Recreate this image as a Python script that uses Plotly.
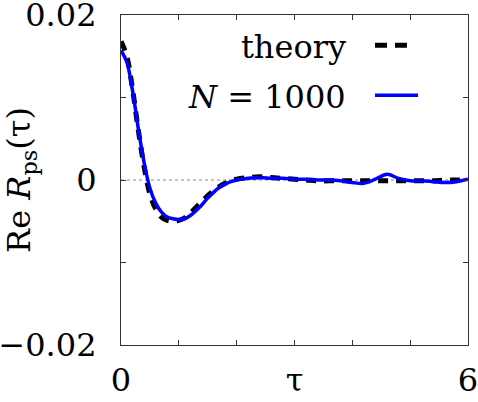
import plotly.graph_objects as go

# ---- data ----
tau = [0.0, 0.1, 0.2, 0.3, 0.4, 0.5, 0.6, 0.7, 0.8, 0.9, 1.0, 1.1, 1.2, 1.3, 1.4,
       1.5, 1.6, 1.7, 1.8, 1.9, 2.0, 2.2, 2.4, 2.6, 2.8, 3.0, 3.2, 3.4, 3.6, 3.8,
       4.0, 4.2, 4.4, 4.6, 4.8, 5.0, 5.2, 5.4, 5.6, 5.8, 6.0]
theory = [0.0168, 0.0150, 0.0110, 0.0060, 0.0016, -0.0017, -0.0035, -0.0045, -0.0049,
          -0.0050, -0.0049, -0.0046, -0.0040, -0.0033, -0.0026, -0.0019, -0.0013,
          -0.0008, -0.0004, -0.0001, 0.0001, 0.0003, 0.0004, 0.0003, 0.0002, 0.0001,
          0.0000, -0.0001, -0.0001, -0.0001, -0.0001, -0.0001, -0.0001, -0.0001,
          -0.0001, -0.0001, -0.0001, -0.0001, 0.0000, 0.0000, 0.0000]
sim_1000 = [0.0157, 0.0143, 0.0108, 0.0062, 0.0021, -0.0010, -0.0028, -0.0039, -0.0045,
            -0.0047, -0.0048, -0.0047, -0.0043, -0.0037, -0.0030, -0.0022, -0.0015,
            -0.0009, -0.0005, -0.0002, 0.0000, 0.0002, 0.0003, 0.0002, 0.0002, 0.0001,
            0.0001, 0.0000, 0.0000, -0.0001, -0.0003, -0.0004, 0.0001, 0.0007, 0.0002,
            -0.0001, -0.0001, -0.0002, -0.0003, -0.0002, 0.0001]

x_tickvals = [0, 1, 2, 3, 4, 5, 6]
x_ticktext = ["0", " ", " ", "τ", " ", " ", "6"]
y_tickvals = [-0.02, -0.01, 0, 0.01, 0.02]
y_ticktext = ["−0.02", " ", "0", " ", "0.02"]

FONT = "DejaVu Serif, serif"
FS = 32
AXC = "#333333"

fig = go.Figure()
fig.add_trace(go.Scatter(x=tau, y=theory, mode="lines", name="theory",
                         line=dict(color="black", width=5, dash="10px,8px", shape="spline"),
                         showlegend=False))
fig.add_trace(go.Scatter(x=tau, y=sim_1000, mode="lines", name="N = 1000",
                         line=dict(color="#0000ff", width=3.5, shape="spline"),
                         showlegend=False))

# dotted zero line
fig.add_shape(type="line", xref="paper", x0=0, x1=1, yref="y", y0=0, y1=0,
              line=dict(color="#888888", width=1, dash="3px,3px"), layer="below")

# legend (text left of sample, as in the reference)
fig.add_annotation(x=0.654, y=0.902, xref="paper", yref="paper", text="theory",
                   showarrow=False, xanchor="right", yanchor="middle",
                   font=dict(family=FONT, size=FS, color="black"))
fig.add_annotation(x=0.654, y=0.751, xref="paper", yref="paper", text="<i>N</i> = 1000",
                   showarrow=False, xanchor="right", yanchor="middle",
                   font=dict(family=FONT, size=FS, color="black"))
fig.add_shape(type="line", xref="paper", yref="paper", x0=0.732, x1=0.824, y0=0.908, y1=0.908,
              line=dict(color="black", width=5, dash="12px,8px"))
fig.add_shape(type="line", xref="paper", yref="paper", x0=0.732, x1=0.856, y0=0.757, y1=0.757,
              line=dict(color="#0000ff", width=3.5))

fig.update_xaxes(range=[0, 6], tickvals=x_tickvals, ticktext=x_ticktext,
                 ticks="inside", ticklen=5, tickcolor=AXC, tickwidth=1,
                 showline=True, linecolor=AXC, linewidth=1.2, mirror="ticks",
                 showgrid=False, zeroline=False, automargin=False,
                 ticklabeloverflow="allow",
                 tickfont=dict(family=FONT, size=FS, color="black"),
                 ticklabelstandoff=6)
fig.update_yaxes(range=[-0.02, 0.02], tickvals=y_tickvals, ticktext=y_ticktext,
                 ticks="inside", ticklen=5, tickcolor=AXC, tickwidth=1,
                 showline=True, linecolor=AXC, linewidth=1.2, mirror="ticks",
                 showgrid=False, zeroline=False, automargin=False,
                 ticklabeloverflow="allow",
                 tickfont=dict(family=FONT, size=FS, color="black"),
                 ticklabelstandoff=17,
                 title=dict(text="Re <i>R</i><sub>ps</sub>(τ)", standoff=12,
                            font=dict(family=FONT, size=FS, color="black")))

fig.update_layout(width=478, height=402,
                  margin=dict(l=121, r=10, t=15, b=57),
                  plot_bgcolor="white", paper_bgcolor="white",
                  font=dict(family=FONT),
                  showlegend=False)

fig.write_html("out.html", config={"displayModeBar": False},
               post_script="document.body.style.margin='0';")
